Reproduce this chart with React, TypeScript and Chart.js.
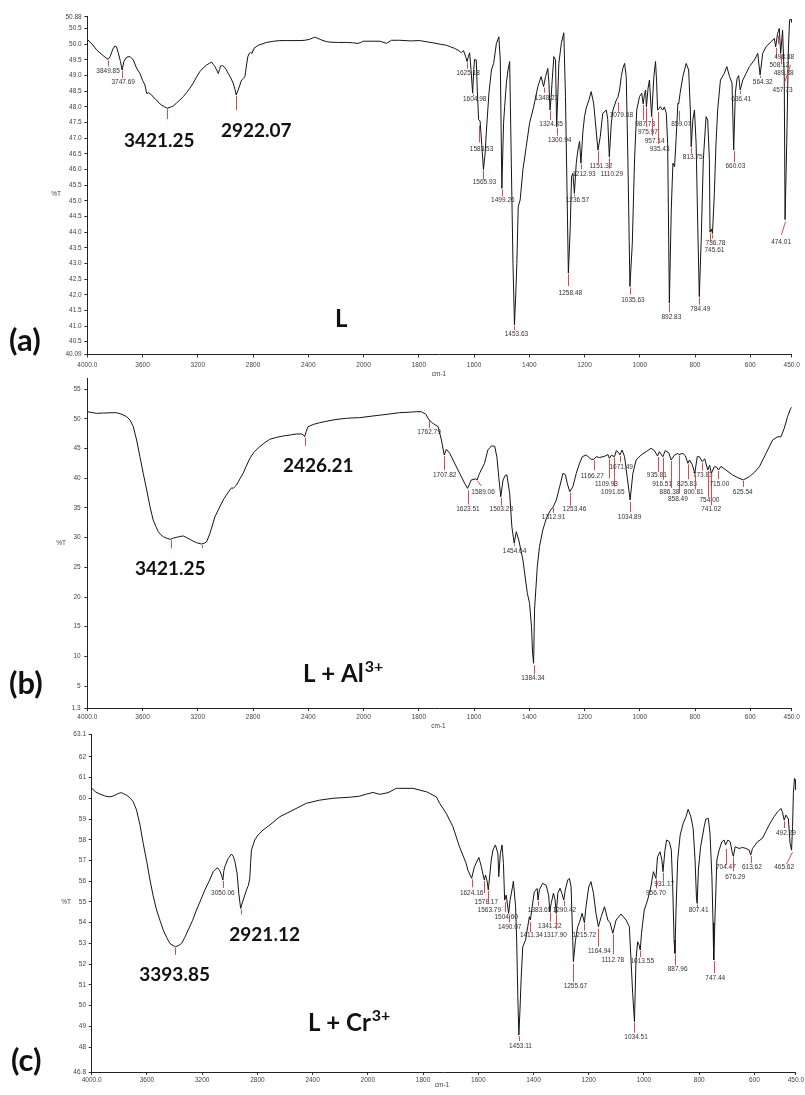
import React, { useEffect, useRef } from 'react';
import { Chart, registerables } from 'chart.js';
Chart.register(...registerables);
Chart.defaults.font.family = '"Liberation Sans", Arial, sans-serif';

const W = 805;
const H = 1095;

// IR axis: 4000-2000 compressed, 2000-450 expanded x2
function u(w: number): number {
  return w >= 2000 ? 4000 - w : 2000 + 2 * (2000 - w);
}

const xTickWaves = [4000, 3600, 3200, 2800, 2400, 2000, 1800, 1600, 1400, 1200, 1000, 800, 600, 450];
const xTickLabels = ['4000.0', '3600', '3200', '2800', '2400', '2000', '1800', '1600', '1400', '1200', '1000', '800', '600', '450.0'];

// ---------------- (a) L ----------------
const yTicksA = [40.09, 40.5, 41.0, 41.5, 42.0, 42.5, 43.0, 43.5, 44.0, 44.5, 45.0, 45.5, 46.0, 46.5, 47.0, 47.5, 48.0, 48.5, 49.0, 49.5, 50.0, 50.5, 50.88];
const yLabelsA = ['40.09', '40.5', '41.0', '41.5', '42.0', '42.5', '43.0', '43.5', '44.0', '44.5', '45.0', '45.5', '46.0', '46.5', '47.0', '47.5', '48.0', '48.5', '49.0', '49.5', '50.0', '50.5', '50.88'];

const spectrumA: [number, number][] = [
  [4000, 50.16], [3960, 49.98], [3932, 49.82], [3880, 49.62], [3849.85, 49.52], [3835, 49.6], [3815, 49.85], [3800, 49.95], [3790, 49.93], [3775, 49.72], [3760, 49.45], [3747.69, 49.18], [3735, 49.45], [3715, 49.59], [3691, 49.61], [3667, 49.5], [3643, 49.24], [3619, 49.07], [3600, 48.85], [3583, 48.7], [3570, 48.43], [3555, 48.45], [3534, 48.38], [3515, 48.28], [3498, 48.22], [3480, 48.12], [3462, 48.06], [3440, 48.0], [3421.25, 47.96], [3400, 47.99], [3378, 48.03], [3355, 48.12], [3330, 48.22], [3305, 48.33], [3281, 48.46], [3257, 48.6], [3233, 48.76], [3210, 48.95], [3185, 49.13], [3160, 49.25], [3136, 49.34], [3115, 49.4], [3100, 49.43], [3088, 49.36], [3076, 49.29], [3060, 49.15], [3052, 49.07], [3042, 49.2], [3035, 49.31], [3022, 49.32], [3011, 49.29], [2995, 49.2], [2980, 49.07], [2960, 48.92], [2944, 48.76], [2930, 48.55], [2922.07, 48.38], [2908, 48.54], [2895, 48.7], [2883, 48.86], [2868, 48.92], [2859, 48.97], [2847, 49.34], [2838, 49.6], [2828, 49.71], [2817, 49.74], [2807, 49.71], [2800, 49.82], [2794, 49.87], [2763, 49.97], [2730, 50.02], [2702, 50.06], [2650, 50.1], [2606, 50.12], [2560, 50.12], [2510, 50.12], [2460, 50.12], [2425, 50.13], [2390, 50.16], [2370, 50.2], [2353, 50.23], [2330, 50.19], [2305, 50.14], [2270, 50.09], [2244, 50.07], [2180, 50.06], [2124, 50.06], [2080, 50.05], [2040, 50.03], [2020, 50.06], [2001, 50.1], [1970, 50.1], [1941, 50.1], [1917, 50.03], [1899, 50.13], [1869, 50.13], [1830, 50.11], [1797, 50.12], [1770, 50.08], [1749, 50.05], [1720, 50.0], [1700, 49.97], [1685, 49.92], [1670, 49.87], [1655, 49.8], [1646, 49.73], [1638, 49.8], [1630, 49.6], [1625.18, 49.45], [1620, 49.62], [1616, 49.73], [1611, 49.2], [1604.98, 48.44], [1601, 49.2], [1598, 49.52], [1592, 49.5], [1588, 48.5], [1583.53, 47.6], [1578, 47.55], [1572, 46.8], [1565.93, 46.0], [1560, 46.5], [1555, 47.26], [1546, 48.44], [1537, 49.18], [1529, 49.39], [1519, 50.03], [1510, 50.24], [1505, 49.5], [1499.26, 45.4], [1493, 47.5], [1489, 48.01], [1483, 48.76], [1477, 49.18], [1471, 49.45], [1465, 46.2], [1459, 43.0], [1453.63, 41.03], [1449, 42.0], [1445, 43.0], [1440, 44.81], [1433, 45.03], [1423, 46.0], [1411, 46.73], [1399, 47.48], [1384, 48.01], [1369, 48.65], [1357, 48.97], [1348.23, 48.65], [1341, 48.97], [1333, 49.23], [1329, 48.8], [1324.85, 47.9], [1321, 48.3], [1317, 48.86], [1311, 49.61], [1305, 49.5], [1300.94, 47.37], [1297, 48.3], [1293, 49.39], [1284, 50.03], [1275, 50.37], [1269, 48.33], [1264, 45.67], [1258.48, 42.69], [1252, 44.07], [1247, 45.77], [1242, 45.88], [1236.57, 45.24], [1230, 46.2], [1224, 46.62], [1218, 46.9], [1212.93, 46.2], [1206, 47.2], [1200, 47.69], [1194, 47.96], [1184, 48.22], [1176, 48.49], [1167, 48.12], [1158, 47.26], [1151.32, 46.62], [1143, 47.05], [1134, 47.8], [1121, 47.9], [1116, 47.6], [1110.29, 46.41], [1103, 47.48], [1097, 47.9], [1085, 48.22], [1079.68, 48.3], [1073, 48.54], [1067, 48.97], [1061, 49.24], [1055, 49.39], [1049, 48.97], [1043, 46.31], [1035.63, 42.26], [1027, 43.64], [1019, 46.31], [1011, 47.9], [1001, 48.33], [993, 48.44], [987.73, 48.1], [983, 48.4], [979, 48.54], [975.97, 48.0], [970, 48.6], [965, 48.86], [957.14, 47.69], [949, 48.97], [943, 49.45], [939, 48.8], [935.43, 47.9], [930, 47.95], [926, 48.01], [917, 47.9], [911, 48.0], [904, 47.8], [899, 46.84], [892.83, 41.73], [886, 44.71], [880, 46.2], [874, 46.09], [868, 47.05], [862, 48.12], [859.07, 48.1], [854, 48.44], [844, 48.97], [832, 49.39], [823, 49.18], [817, 47.9], [813.75, 46.73], [808, 47.58], [802, 47.9], [796, 46.84], [790, 44.17], [784.49, 41.94], [778, 43.64], [770, 46.31], [760, 47.69], [754, 47.58], [748, 46.31], [745.61, 44.0], [741, 44.1], [736.78, 43.96], [730, 45.24], [724, 46.84], [718, 47.9], [708, 48.86], [694, 49.07], [685, 49.29], [675, 48.97], [666, 48.76], [660.03, 46.62], [654, 48.44], [648, 48.9], [642, 49.0], [636.41, 48.54], [627, 48.86], [615, 49.07], [603, 49.29], [585, 49.5], [573, 49.71], [564.32, 49.02], [555, 49.71], [543, 49.92], [525, 50.08], [513, 50.19], [508.12, 49.92], [501, 50.35], [498.88, 50.4], [495, 50.51], [489.88, 49.71], [483, 50.45], [477, 48.97], [474.01, 44.4], [468, 46.84], [462, 49.82], [457.73, 50.78], [452, 50.8], [450, 50.7],
];

const peaksA: [number, string][] = [
  [3849.85, '3849.85'], [3747.69, '3747.69'], [3421.25, ''], [2922.07, ''], [1625.18, '1625.18'], [1604.98, '1604.98'], [1583.53, '1583.53'], [1565.93, '1565.93'], [1499.26, '1499.26'], [1453.63, '1453.63'], [1348.23, '1348.23'], [1324.85, '1324.85'], [1300.94, '1300.94'], [1258.48, '1258.48'], [1236.57, '1236.57'], [1212.93, '1212.93'], [1151.32, '1151.32'], [1110.29, '1110.29'], [1079.68, '1079.68'], [1035.63, '1035.63'], [987.73, '987.73'], [975.97, '975.97'], [957.14, '957.14'], [935.43, '935.43'], [892.83, '892.83'], [859.07, '859.07'], [813.75, '813.75'], [784.49, '784.49'], [745.61, '745.61'], [736.78, '736.78'], [660.03, '660.03'], [636.41, '636.41'], [564.32, '564.32'], [508.12, '508.12'], [498.88, '498.88'], [489.88, '489.88'], [474.01, '474.01'], [457.73, '457.73'],
];
// [label dx, label dy, tick length, tick gap, tick dx]
const peakLayoutA: number[][] = [
  [0, 12, 6, 1, 0], [1, 12, 7, 1, 0], [0, 0, 10, 1, 0], [0, 0, 14, 1, 0], [1, 12, 6, 1, 0], [2, 6, 2, 1, 0], [3, 30, 17, 6, 0], [1, 13, 9, 1, 0], [1, 12, 7, 1, 0], [2, 9.5, 4, 1, 0], [3, 11.7, 5, 1, 0], [1, 14, 9, 1, 0], [3, 14, 8, 1, 0], [2, 19.6, 12, 1, 0], [3, 7, 2, 1, 0], [3, 10.7, 5, 1, 0], [3, 16, 12, 1, 0], [2.5, 17.3, 11, 1, 0], [3.5, 18, 9, 5, 0], [3, 14, 7, 1, 0], [2, 20, 15, 1, 0], [1.5, 25, 19, 1, 0], [3, 24.4, 18, 1, 0], [2, 39, 32, 2, 0], [2, 14, 8, 1, 0], [2.5, 20.5, 10, 7, 0], [1.5, 11, 6, 1, 0], [1, 12.4, 7, 1, 0], [4.4, 17.7, 9, 1, 0], [3, 9.4, 4, 1, 0], [1.7, 16, 11, 1, 0], [1, 9, 3, 1, 0], [2.6, 6.7, 2, 1, 0], [3.7, 18, 10, 1, 0], [6, 25, 8, 4, 0], [3, 20, 10, 1, 0], [-4, 22.7, 13, 2, -4], [-7, 70, 18, 45, -6],
];

// ---------------- (b) L + Al3+ ----------------
const yTicksB = [1.3, 5, 10, 15, 20, 25, 30, 35, 40, 45, 50, 55];
const yLabelsB = ['1.3', '5', '10', '15', '20', '25', '30', '35', '40', '45', '50', '55'];

const spectrumB: [number, number][] = [
  [4000, 51.22], [3960, 51.05], [3932, 50.95], [3880, 51.0], [3812, 51.05], [3788, 51.05], [3750, 50.8], [3715, 50.38], [3691, 49.83], [3667, 48.7], [3643, 46.45], [3619, 43.64], [3595, 40.84], [3570, 38.03], [3546, 35.22], [3523, 32.98], [3500, 31.7], [3486, 31.0], [3468, 30.5], [3450, 30.16], [3420, 29.85], [3395, 29.72], [3375, 29.95], [3353, 30.06], [3330, 30.2], [3305, 30.28], [3280, 30.0], [3257, 29.72], [3233, 29.4], [3209, 29.15], [3173, 28.93], [3150, 29.1], [3136, 29.3], [3112, 30.73], [3076, 33.5], [3045, 35.0], [3016, 36.35], [2990, 37.3], [2968, 38.03], [2955, 38.4], [2944, 38.3], [2932, 38.6], [2920, 38.87], [2895, 39.9], [2872, 40.84], [2850, 42.0], [2823, 43.37], [2790, 44.5], [2751, 45.33], [2715, 46.0], [2679, 46.57], [2630, 46.9], [2582, 47.13], [2530, 47.3], [2486, 47.47], [2450, 47.47], [2435, 47.3], [2426.21, 47.0], [2415, 47.9], [2402, 48.7], [2360, 49.1], [2317, 49.37], [2270, 49.6], [2221, 49.83], [2170, 50.0], [2124, 50.11], [2075, 50.18], [2028, 50.22], [1966, 50.5], [1905, 50.84], [1869, 51.06], [1830, 51.15], [1809, 51.22], [1791, 51.22], [1775, 50.8], [1762.79, 49.83], [1749, 49.27], [1730, 48.7], [1718, 46.45], [1707.82, 43.93], [1700, 44.89], [1688, 44.21], [1670, 42.53], [1652, 40.84], [1634, 39.16], [1623.51, 38.3], [1610, 39.72], [1594, 39.9], [1589.06, 39.7], [1580, 40.84], [1562, 42.53], [1550, 44.77], [1537, 45.45], [1525, 45.4], [1517, 43.5], [1510, 40.0], [1503.23, 36.9], [1495, 39.72], [1486, 40.56], [1481, 40.56], [1471, 37.47], [1463, 31.85], [1454.64, 29.05], [1447, 31.0], [1438, 29.6], [1423, 26.24], [1407, 20.63], [1399, 18.94], [1392, 15.0], [1388, 10.5], [1384.34, 8.83], [1381, 17.8], [1371, 25.11], [1363, 28.48], [1351, 31.29], [1338, 33.26], [1325, 34.5], [1312.91, 35.22], [1302, 36.35], [1290, 38.59], [1278, 40.84], [1269, 40.6], [1263, 39.2], [1253.46, 37.75], [1242, 38.59], [1230, 40.84], [1218, 42.53], [1208, 43.64], [1194, 43.93], [1176, 43.2], [1166.27, 43.2], [1158, 43.64], [1146, 43.5], [1128, 43.7], [1115, 44.0], [1109.93, 43.37], [1103, 43.9], [1091.65, 43.64], [1085, 44.66], [1078, 44.4], [1071.49, 43.93], [1064, 44.77], [1055, 43.64], [1045, 40.0], [1034.89, 36.35], [1025, 40.84], [1013, 43.09], [995, 43.93], [977, 44.49], [959, 45.06], [947, 44.66], [935.81, 43.76], [929, 44.49], [916.51, 43.64], [908, 44.66], [895, 44.3], [886.38, 43.09], [874, 43.93], [862, 44.2], [858.49, 44.0], [844, 44.2], [835, 43.8], [825.83, 42.53], [820, 43.09], [810, 42.3], [800.81, 40.84], [792, 43.64], [784, 43.64], [773.83, 42.8], [765, 43.3], [754, 41.4], [747, 42.2], [741.02, 40.84], [730, 41.96], [722, 41.9], [715, 41.4], [706, 42.0], [688, 41.4], [664, 40.56], [645, 40.1], [625.54, 39.72], [603, 40.28], [585, 41.0], [567, 41.96], [543, 44.21], [519, 46.45], [501, 47.0], [489, 47.0], [477, 48.42], [465, 50.38], [456, 51.51], [450, 52.0],
];

const peaksB: [number, string][] = [
  [3395, ''], [3173, ''], [2426.21, ''], [1762.79, '1762.79'], [1707.82, '1707.82'], [1623.51, '1623.51'], [1589.06, '1589.06'], [1503.23, '1503.23'], [1454.64, '1454.64'], [1384.34, '1384.34'], [1312.91, '1312.91'], [1253.46, '1253.46'], [1166.27, '1166.27'], [1109.93, '1109.93'], [1091.65, '1091.65'], [1071.49, '1071.49'], [1034.89, '1034.89'], [935.81, '935.81'], [916.51, '916.51'], [886.38, '886.38'], [858.49, '858.49'], [825.83, '825.83'], [800.81, '800.81'], [773.83, '773.83'], [754.0, '754.00'], [741.02, '741.02'], [715.0, '715.00'], [625.54, '625.54'],
];
const peakLayoutB: number[][] = [
  [0, 0, 8, 1, 0], [0, 0, 3, 1, 0], [0, 0, 8, 1, 0], [0, 12.7, 7, 1, 0], [0.4, 20.7, 14, 1, 0], [0.4, 20.6, 14, 2, 0], [6, 12.2, 5, 1, 4], [0.5, 12.3, 8, 1, 0], [0.4, 7.7, 2, 1, 0], [-0.7, 15, 9, 2, 0], [0.2, 10.6, 5, 1, 0], [4.8, 17.3, 13, 1, 0], [-1.6, 16.4, 10, 1, 0], [-3, 25.7, 19, 1, 0], [-1.6, 35.6, 29, 1, 0], [1.2, 12.3, 6, 1, 0], [-0.6, 17.3, 10, 2, 0], [-0.7, 19.7, 15, 1, 0], [-0.7, 27.3, 22, 1, 0], [-1.7, 32.3, 27, 1, 0], [-1, 44.7, 38, 1, 0], [-1, 20.7, 15, 1, 0], [-1, 19, 15, 1, 0], [0.5, 14, 8, 1, 0], [1.7, 30, 26, 1, 0], [-0.2, 35.7, 31, 1, 0], [0.9, 14, 8, 1, 0], [-0.5, 12.3, 6, 1, 0],
];

// ---------------- (c) L + Cr3+ ----------------
const yTicksC = [46.8, 48, 49, 50, 51, 52, 53, 54, 55, 56, 57, 58, 59, 60, 61, 62, 63.1];
const yLabelsC = ['46.8', '48', '49', '50', '51', '52', '53', '54', '55', '56', '57', '58', '59', '60', '61', '62', '63.1'];

const spectrumC: [number, number][] = [
  [4000, 60.48], [3970, 60.3], [3940, 60.2], [3900, 60.1], [3868, 60.07], [3840, 60.12], [3819, 60.19], [3800, 60.25], [3783, 60.27], [3765, 60.2], [3747, 60.15], [3720, 60.0], [3699, 59.83], [3675, 59.43], [3650, 58.7], [3627, 57.83], [3600, 56.9], [3578, 56.06], [3555, 55.3], [3530, 54.61], [3505, 54.1], [3482, 53.65], [3458, 53.3], [3434, 53.0], [3410, 52.9], [3393.85, 52.84], [3370, 52.9], [3349, 53.0], [3325, 53.3], [3301, 53.65], [3270, 54.1], [3241, 54.61], [3210, 55.1], [3180, 55.58], [3150, 56.0], [3120, 56.46], [3100, 56.6], [3089, 56.65], [3072, 56.5], [3060, 56.3], [3050.06, 56.06], [3043, 56.5], [3036, 56.7], [3012, 57.1], [2987, 57.31], [2975, 57.2], [2963, 56.95], [2947, 56.38], [2935, 55.42], [2921.12, 54.69], [2912, 54.9], [2903, 55.09], [2879, 55.58], [2865, 55.8], [2855, 56.14], [2849, 56.9], [2843, 57.5], [2819, 57.99], [2795, 58.23], [2759, 58.47], [2710, 58.71], [2638, 59.11], [2542, 59.43], [2445, 59.76], [2349, 59.91], [2253, 60.0], [2132, 60.05], [2060, 60.1], [2011, 60.2], [1981, 60.28], [1957, 60.19], [1927, 60.27], [1897, 60.48], [1885, 60.48], [1837, 60.48], [1787, 60.31], [1752, 60.07], [1740, 59.76], [1716, 59.27], [1692, 58.63], [1668, 57.66], [1644, 56.86], [1638, 56.54], [1624.16, 56.14], [1614, 56.7], [1598, 57.15], [1589, 56.7], [1580, 56.14], [1578.17, 56.06], [1574, 56.3], [1568, 56.0], [1563.79, 55.58], [1553, 57.02], [1547, 57.5], [1538, 57.75], [1529, 57.34], [1526, 56.22], [1520, 57.34], [1514, 57.75], [1509, 56.86], [1504.6, 55.09], [1499, 55.33], [1490.07, 54.45], [1485, 55.09], [1476, 55.73], [1473, 56.0], [1465, 54.77], [1461, 53.16], [1457, 50.5], [1453.11, 48.58], [1449, 49.8], [1445, 51.24], [1439, 52.84], [1429, 53.16], [1421, 53.81], [1415, 54.29], [1411.34, 54.13], [1405, 54.77], [1397, 55.49], [1387, 55.65], [1383.65, 55.09], [1379, 55.58], [1367, 55.9], [1354, 55.8], [1345, 55.3], [1341.22, 54.53], [1336, 54.93], [1328, 55.42], [1322, 55.1], [1317.9, 54.45], [1312, 55.42], [1304, 55.66], [1297, 55.4], [1290.42, 55.09], [1285, 55.58], [1276, 56.06], [1270, 56.14], [1264, 55.73], [1258, 53.16], [1255.67, 52.12], [1248, 53.16], [1240, 53.81], [1234, 54.0], [1224, 54.45], [1215.72, 54.0], [1210, 54.77], [1200, 55.73], [1192, 55.98], [1183, 55.42], [1174, 54.45], [1164.94, 53.81], [1155, 54.29], [1143, 54.77], [1131, 54.13], [1123, 54.0], [1112.78, 53.49], [1101, 54.13], [1083, 54.42], [1065, 54.13], [1053, 53.81], [1047, 52.2], [1041, 50.59], [1034.51, 49.23], [1029, 52.2], [1023, 53.08], [1017, 52.9], [1013.55, 52.68], [1009, 53.49], [999, 54.61], [987, 55.09], [975, 55.73], [966, 56.46], [956.7, 56.14], [951, 57.18], [942, 57.42], [935, 57.0], [931.17, 56.46], [924, 57.5], [918, 57.99], [908, 57.9], [901, 57.5], [896, 55.73], [891, 53.16], [887.96, 52.52], [884, 54.61], [878, 57.02], [869, 58.23], [858, 58.79], [848, 59.11], [840, 59.47], [830, 59.1], [822, 58.55], [815, 57.02], [810, 55.2], [807.41, 54.93], [803, 56.54], [795, 57.66], [782, 58.63], [776, 59.0], [767, 59.03], [761, 58.31], [754, 56.22], [750, 54.0], [747.44, 52.2], [742, 54.61], [736, 57.02], [728, 57.5], [718, 57.9], [710, 57.99], [704.47, 57.75], [696, 57.99], [688, 57.9], [679, 57.3], [676.29, 57.2], [670, 57.66], [655, 57.58], [643, 57.63], [631, 57.58], [619, 57.5], [613.62, 57.26], [607, 57.58], [589, 57.9], [571, 58.07], [559, 58.39], [547, 58.71], [529, 59.11], [516, 59.35], [504, 59.51], [498, 59.3], [492.29, 58.95], [486, 59.19], [477, 59.0], [471, 57.83], [465.62, 57.5], [462, 58.63], [459, 60.24], [455, 60.96], [452, 60.9], [450, 60.4],
];

const peaksC: [number, string][] = [
  [3393.85, ''], [3050.06, '3050.06'], [2921.12, ''], [1624.16, '1624.16'], [1578.17, '1578.17'], [1563.79, '1563.79'], [1504.6, '1504.60'], [1490.07, '1490.07'], [1453.11, '1453.11'], [1411.34, '1411.34'], [1383.65, '1383.65'], [1341.22, '1341.22'], [1317.9, '1317.90'], [1290.42, '1290.42'], [1255.67, '1255.67'], [1215.72, '1215.72'], [1164.94, '1164.94'], [1112.78, '1112.78'], [1034.51, '1034.51'], [1013.55, '1013.55'], [956.7, '956.70'], [931.17, '931.17'], [887.96, '887.96'], [807.41, '807.41'], [747.44, '747.44'], [704.47, '704.47'], [676.29, '676.29'], [613.62, '613.62'], [492.29, '492.29'], [465.62, '465.62'],
];
const peakLayoutC: number[][] = [
  [0, 0, 7, 1, 0], [0, 13, 7, 1, 0], [0, 0, 5, 1, 0], [0, 15, 8, 1, 0], [2, 22, 12, 1, 0], [1, 20, 13, 1, 0], [1.5, 17, 10, 2, 0], [1, 13.4, 8, 1, 0], [1.6, 10.7, 5, 1, 0], [1, 15, 10, 2, 0], [1.5, 10, 5, 1, 0], [0, 14, 9, 1, 0], [-1, 21.7, 15, 1, 0], [0.6, 10, 5, 1, 0], [2, 25, 18, 2, 0], [0, 12.3, 7, 1, 0], [1, 25, 18, 2, 0], [0, 27, 20, 1, 0], [1.6, 15.7, 10, 1, 0], [2, 10.7, 6, 1, 0], [0, 15, 9, 1, 0], [1.3, 12.6, 8, 1, 0], [2.7, 16, 11, 1, 0], [1.4, 7, 3, 1, 0], [1.5, 18.3, 12, 1, 0], [0.3, 22.3, 16, 4, 0], [1.8, 20.4, 14, 1, 0], [1.2, 12.3, 7, 1, 0], [1.7, 13.3, 7, 1, 0], [-7.4, 17.3, 12, 2, -6],
];

type TextItem = { t: string; x: number; y: number; font: string; sup?: string; supFont?: string; supRise?: number };

type Panel = {
  key: string;
  spectrum: [number, number][];
  peaks: [number, string][];
  peakLayout: number[][];
  yTicks: number[];
  yLabels: string[];
  ymin: number;
  ymax: number;
  left: number;
  right: number;
  top: number;
  bottom: number;
  xPad: number;
  yPad: number;
  texts: TextItem[];
  small: { t: string; x: number; y: number }[];
};

const BIG = 'bold 19px Lato, "Open Sans", sans-serif';
const TITLE = 'bold 24px Lato, "Open Sans", sans-serif';
const SUP = 'bold 16px Lato, "Open Sans", sans-serif';
const LETTER = 'bold 31px Lato, "Open Sans", sans-serif';

const PANELS: Panel[] = [
  {
    key: 'a', spectrum: spectrumA, peaks: peaksA, peakLayout: peakLayoutA,
    yTicks: yTicksA, yLabels: yLabelsA, ymin: 40.09, ymax: 50.88,
    left: 87.3, right: 791.7, top: 16.8, bottom: 354.5, xPad: 4, yPad: 2.6,
    texts: [
      { t: '3421.25', x: 124, y: 147, font: BIG },
      { t: '2922.07', x: 221, y: 137, font: BIG },
      { t: 'L', x: 335, y: 326.5, font: TITLE },
      { t: '(a)', x: 9, y: 351, font: LETTER },
    ],
    small: [{ t: '%T', x: 56, y: 194 }, { t: 'cm-1', x: 439, y: 374 }],
  },
  {
    key: 'b', spectrum: spectrumB, peaks: peaksB, peakLayout: peakLayoutB,
    yTicks: yTicksB, yLabels: yLabelsB, ymin: 1.3, ymax: 56.9,
    left: 87.3, right: 791.7, top: 378, bottom: 708, xPad: 2.5, yPad: 3.6,
    texts: [
      { t: '3421.25', x: 135, y: 575, font: BIG },
      { t: '2426.21', x: 283, y: 471.7, font: BIG },
      { t: 'L + Al', x: 303, y: 682, font: TITLE, sup: '3+', supFont: SUP, supRise: 10 },
      { t: '(b)', x: 9, y: 694, font: LETTER },
    ],
    small: [{ t: '%T', x: 61, y: 543 }, { t: 'cm-1', x: 438.5, y: 726 }],
  },
  {
    key: 'c', spectrum: spectrumC, peaks: peaksC, peakLayout: peakLayoutC,
    yTicks: yTicksC, yLabels: yLabelsC, ymin: 46.8, ymax: 63.1,
    left: 91.7, right: 796.7, top: 734, bottom: 1072, xPad: 1, yPad: 2.7,
    texts: [
      { t: '3393.85', x: 139.3, y: 980.7, font: BIG },
      { t: '2921.12', x: 229.3, y: 940.7, font: BIG },
      { t: 'L + Cr', x: 308, y: 1031, font: TITLE, sup: '3+', supFont: SUP, supRise: 10 },
      { t: '(c)', x: 11, y: 1071, font: LETTER },
    ],
    small: [{ t: '%T', x: 66, y: 902 }, { t: 'cm-1', x: 442, y: 1085 }],
  },
];

function interp(spec: [number, number][], w: number): number {
  for (let i = 0; i < spec.length - 1; i++) {
    const [w0, t0] = spec[i];
    const [w1, t1] = spec[i + 1];
    if (w0 >= w && w >= w1) {
      const f = w0 === w1 ? 0 : (w0 - w) / (w0 - w1);
      return t0 + f * (t1 - t0);
    }
  }
  return spec[spec.length - 1][1];
}

function annotPlugin(p: Panel) {
  return {
    id: 'annot_' + p.key,
    afterDraw(chart: any) {
      const ctx: CanvasRenderingContext2D = chart.ctx;
      const xs = chart.scales.x;
      const ys = chart.scales.y;
      ctx.save();
      // peak markers
      p.peaks.forEach(([w, label], i) => {
        const [dx, dy, len, gap, tdx] = p.peakLayout[i];
        const px = xs.getPixelForValue(u(w));
        const py = ys.getPixelForValue(interp(p.spectrum, w));
        if (len > 0) {
          ctx.strokeStyle = '#e4464a';
          ctx.lineWidth = 1;
          ctx.beginPath();
          const x0 = Math.round(px) + 0.5;
          ctx.moveTo(x0, py + gap);
          ctx.lineTo(x0 + tdx, py + gap + len);
          ctx.stroke();
        }
        if (label) {
          ctx.fillStyle = '#333';
          ctx.font = '6.5px "Liberation Sans", Arial, sans-serif';
          ctx.textAlign = 'center';
          ctx.textBaseline = 'middle';
          ctx.fillText(label, px + dx, py + dy);
        }
      });
      // big texts
      p.texts.forEach((tx) => {
        ctx.fillStyle = '#111';
        ctx.font = tx.font;
        ctx.textAlign = 'left';
        ctx.textBaseline = 'alphabetic';
        ctx.fillText(tx.t, tx.x, tx.y);
        if (tx.sup) {
          const wd = ctx.measureText(tx.t).width;
          ctx.font = tx.supFont || tx.font;
          ctx.fillText(tx.sup, tx.x + wd + 1, tx.y - (tx.supRise || 0));
        }
      });
      // small axis texts
      p.small.forEach((s) => {
        ctx.fillStyle = '#444';
        ctx.font = '6.5px "Liberation Sans", Arial, sans-serif';
        ctx.textAlign = 'center';
        ctx.textBaseline = 'middle';
        ctx.fillText(s.t, s.x, s.y);
      });
      ctx.restore();
    },
  };
}

const X_AXIS_H = 20;

function makeConfig(p: Panel): any {
  const tickFont = { size: 6.5, family: '"Liberation Sans", Arial, sans-serif' };
  return {
    type: 'line',
    data: {
      datasets: [
        {
          data: p.spectrum.map(([w, t]) => ({ x: u(w), y: t })),
          borderColor: '#151515',
          borderWidth: 1,
          pointRadius: 0,
          tension: 0,
          fill: false,
        },
      ],
    },
    options: {
      animation: false,
      responsive: false,
      maintainAspectRatio: false,
      devicePixelRatio: 1,
      parsing: false,
      normalized: true,
      layout: {
        padding: { left: 0, top: p.top, right: W - p.right, bottom: H - p.bottom - X_AXIS_H },
      },
      plugins: { legend: { display: false }, tooltip: { enabled: false }, title: { display: false } },
      scales: {
        x: {
          type: 'linear',
          min: 0,
          max: u(450),
          afterBuildTicks: (s: any) => {
            s.ticks = xTickWaves.map((w) => ({ value: u(w) }));
          },
          afterFit: (s: any) => {
            s.height = X_AXIS_H;
          },
          ticks: {
            autoSkip: false,
            maxRotation: 0,
            minRotation: 0,
            padding: p.xPad,
            font: tickFont,
            color: '#444',
            callback: (_v: any, i: number) => xTickLabels[i],
          },
          grid: { display: true, drawOnChartArea: false, drawTicks: true, tickLength: 3, color: '#333', tickColor: '#333' },
          border: { display: true, color: '#222', width: 1 },
        },
        y: {
          type: 'linear',
          min: p.ymin,
          max: p.ymax,
          afterBuildTicks: (s: any) => {
            s.ticks = p.yTicks.map((v) => ({ value: v }));
          },
          afterFit: (s: any) => {
            s.width = p.left;
          },
          ticks: {
            autoSkip: false,
            padding: p.yPad,
            font: tickFont,
            color: '#444',
            callback: (_v: any, i: number) => p.yLabels[i],
          },
          grid: { display: true, drawOnChartArea: false, drawTicks: true, tickLength: 3, color: '#333', tickColor: '#333' },
          border: { display: true, color: '#222', width: 1 },
        },
      },
    },
    plugins: [annotPlugin(p)],
  };
}

export default function App() {
  const r0 = useRef<HTMLCanvasElement>(null);
  const r1 = useRef<HTMLCanvasElement>(null);
  const r2 = useRef<HTMLCanvasElement>(null);
  const refs = [r0, r1, r2];

  useEffect(() => {
    const charts = PANELS.map((p, i) => new Chart(refs[i].current as HTMLCanvasElement, makeConfig(p)));
    return () => {
      charts.forEach((c) => c.destroy());
    };
  }, []);

  return (
    <div style={{ position: 'absolute', left: 0, top: 0, width: W, height: H, background: '#fff', overflow: 'hidden' }}>
      {refs.map((r, i) => (
        <canvas
          key={i}
          ref={r}
          width={W}
          height={H}
          style={{ position: 'absolute', left: 0, top: 0, width: W, height: H }}
        />
      ))}
    </div>
  );
}
